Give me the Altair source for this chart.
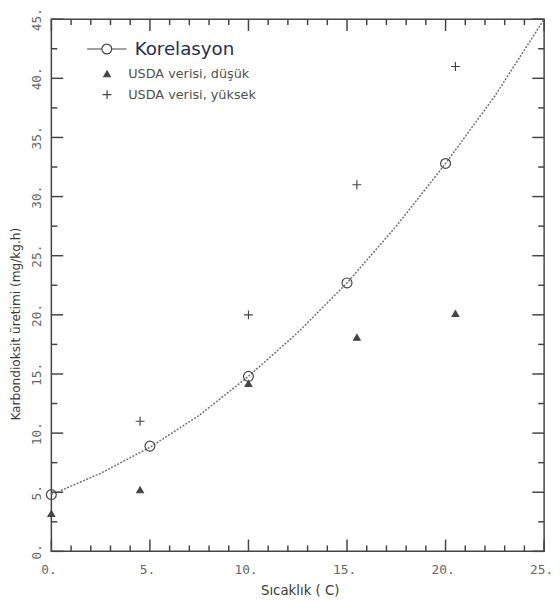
import altair as alt
import pandas as pd

# ---- data ----
curve_x = [0, 2.5, 5, 7.5, 10, 12.5, 15, 17.5, 20, 22.5, 25]
curve_y = [4.8, 6.6, 8.8, 11.5, 14.8, 18.5, 22.7, 27.5, 32.8, 38.5, 45.0]

kor_x = [0, 5, 10, 15, 20]
kor_y = [4.8, 8.9, 14.8, 22.7, 32.8]

low_x = [0, 4.5, 10, 15.5, 20.5]
low_y = [3.2, 5.2, 14.2, 18.1, 20.1]

high_x = [4.5, 10, 15.5, 20.5]
high_y = [11, 20, 31, 41]

kor_name = ["Korelasyon"]
usda_names = ["USDA verisi, düşük", "USDA verisi, yüksek"]

x_major = [0, 5, 10, 15, 20, 25]
x_minor = [1, 2, 3, 4, 6, 7, 8, 9, 11, 12, 13, 14, 16, 17, 18, 19, 21, 22, 23, 24]
y_major = [0, 5, 10, 15, 20, 25, 30, 35, 40, 45]
y_minor = [2.5, 7.5, 12.5, 17.5, 22.5, 27.5, 32.5, 37.5, 42.5]

x_title = "Sıcaklık ( C)"
y_title = "Karbondioksit üretimi (mg/kg.h)"

curve_df = pd.DataFrame({"x": curve_x, "y": curve_y})
kor_df = pd.DataFrame({"x": kor_x, "y": kor_y, "k": kor_name[0]})
usda_df = pd.concat([
    pd.DataFrame({"x": low_x, "y": low_y, "series": usda_names[0]}),
    pd.DataFrame({"x": high_x, "y": high_y, "series": usda_names[1]}),
], ignore_index=True)

W, H = 500, 540
xscale = alt.Scale(domain=[0, 25], nice=False, zero=False)
yscale = alt.Scale(domain=[0, 45], nice=False, zero=False)

AX = "#444444"
MAJ = 12
MIN = 6


def tick_layer(values, side, length):
    base = alt.Chart(pd.DataFrame({"v": values})).mark_rule(color=AX, strokeWidth=1.5)
    if side in ("bottom", "top"):
        x = alt.X("v:Q", scale=xscale, axis=None)
        if side == "bottom":
            return base.encode(x=x, y=alt.value(H), y2=alt.value(H - length))
        return base.encode(x=x, y=alt.value(0), y2=alt.value(length))
    y = alt.Y("v:Q", scale=yscale, axis=None)
    if side == "left":
        return base.encode(y=y, x=alt.value(0), x2=alt.value(length))
    return base.encode(y=y, x=alt.value(W), x2=alt.value(W - length))


ticks = [
    tick_layer(x_major, "bottom", MAJ), tick_layer(x_minor, "bottom", MIN),
    tick_layer(x_major, "top", MAJ), tick_layer(x_minor, "top", MIN),
    tick_layer(y_major, "left", MAJ), tick_layer(y_minor, "left", MIN),
    tick_layer(y_major, "right", MAJ), tick_layer(y_minor, "right", MIN),
]

bottom_axis = alt.Axis(orient="bottom", values=x_major, labelExpr="datum.value + '.'", title=x_title,
                       domain=False, grid=False, ticks=False,
                       labelOverlap=False, labelFlush=False, labelPadding=12, labelOffset=-3,
                       labelFont="DejaVu Sans Mono", labelFontSize=13, labelColor="#666666",
                       titleFont="DejaVu Sans", titleFontSize=13.5, titleFontWeight="normal", titleColor="#3a3a3a",
                       titleX=252, titleY=40, titleBaseline="middle", titleAlign="center")
left_axis = alt.Axis(orient="left", values=y_major, labelExpr="datum.value + '.'", title=y_title,
                     domain=False, grid=False, ticks=False,
                     labelOverlap=False, labelFlush=False, labelPadding=8, labelAngle=-90,
                     labelAlign="center", labelBaseline="bottom",
                     labelFont="DejaVu Sans Mono", labelFontSize=13, labelColor="#666666",
                     titleFont="DejaVu Sans", titleFontSize=12.3, titleFontWeight="normal", titleColor="#3a3a3a",
                     titleX=-36, titleY=309, titleAngle=-90, titleBaseline="middle", titleAlign="center")

line = alt.Chart(curve_df).mark_line(color="#707070", strokeWidth=1.5, strokeDash=[2, 1.5]).encode(
    x=alt.X("x:Q", scale=xscale, axis=None),
    y=alt.Y("y:Q", scale=yscale, axis=None),
)

plus_path = "M-1,0H1M0,-1V1"
kor_sym = "M-4,0H-1M1,0H4M1,0A1,1 0 1 1 -1,0A1,1 0 1 1 1,0"

kor_legend = alt.Legend(
    title=None, orient="none", legendX=47, legendY=21, padding=0,
    labelFont="DejaVu Sans", labelFontSize=18.5, labelColor="#1f2d50", labelOffset=19,
    symbolType=kor_sym, symbolSize=100, symbolStrokeColor="#555555", symbolStrokeWidth=1.2,
    symbolFillColor="transparent",
)
usda_legend = alt.Legend(
    title=None, orient="none", legendX=50, legendY=49, padding=0,
    labelFont="DejaVu Sans", labelFontSize=13, labelColor="#505050", labelOffset=15,
    rowPadding=6, symbolStrokeColor="#444444", symbolFillColor="#444444", symbolStrokeWidth=1.2,
)

kor_points = alt.Chart(kor_df).mark_point(strokeWidth=1.2, opacity=1, size=100, fill="transparent").encode(
    x=alt.X("x:Q", scale=xscale, axis=bottom_axis),
    y=alt.Y("y:Q", scale=yscale, axis=left_axis),
    stroke=alt.Stroke("k:N", scale=alt.Scale(domain=kor_name, range=["#444444"]), legend=kor_legend),
)

usda_points = alt.Chart(usda_df).mark_point(stroke="#444444", strokeWidth=1.2, opacity=1).encode(
    x=alt.X("x:Q", scale=xscale, axis=None),
    y=alt.Y("y:Q", scale=yscale, axis=None),
    shape=alt.Shape("series:N", scale=alt.Scale(domain=usda_names, range=["triangle-up", plus_path]), legend=usda_legend),
    fill=alt.Fill("series:N", scale=alt.Scale(domain=usda_names, range=["#444444", "transparent"]), legend=None),
    size=alt.Size("series:N", scale=alt.Scale(domain=usda_names, range=[45, 81]), legend=usda_legend),
)

chart = alt.layer(*ticks, line, kor_points, usda_points).resolve_axis(
    x="independent", y="independent"
).properties(
    width=W, height=H,
    autosize=alt.AutoSizeParams(type="none"),
    padding={"left": 44, "top": 7, "right": 8, "bottom": 45},
    background="white",
).configure_view(stroke="#444444", strokeWidth=1.5)

chart.save("out.html", embed_options={"renderer": "svg", "actions": False})
